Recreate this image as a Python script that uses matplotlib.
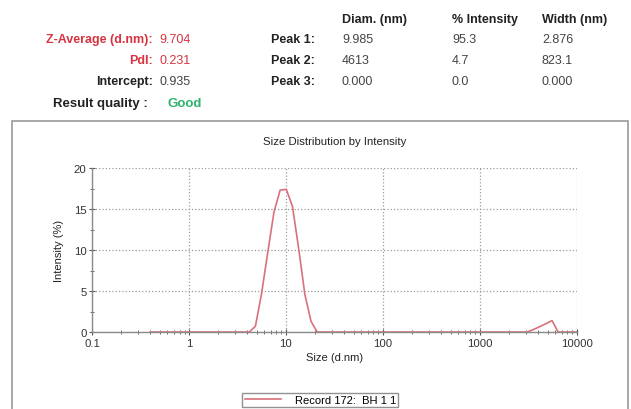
import numpy as np
from matplotlib import pyplot as plt
from matplotlib.patches import Rectangle

plt.rcParams['font.family'] = ['Liberation Sans', 'DejaVu Sans']

# size bins (d.nm) and intensity (%)
sizes = [0.4, 0.4632, 0.5365, 0.6213, 0.7195, 0.8332, 0.9649, 1.117, 1.294, 1.499,
         1.736, 2.010, 2.328, 2.696, 3.122, 3.615, 4.187, 4.849, 5.615, 6.503,
         7.531, 8.721, 10.10, 11.70, 13.54, 15.69, 18.17, 21.04, 24.36, 28.21,
         32.67, 37.84, 43.82, 50.75, 58.77, 68.06, 78.82, 91.28, 105.7, 122.4,
         141.8, 164.2, 190.1, 220.2, 255.0, 295.3, 342.0, 396.1, 458.7, 531.2,
         615.1, 712.4, 825.0, 955.4, 1106, 1281, 1484, 1718, 1990, 2305,
         2669, 3091, 3580, 4145, 4801, 5560, 6439, 7456, 8635, 10000]
intensity = [0, 0, 0, 0, 0, 0, 0, 0, 0, 0,
             0, 0, 0, 0, 0, 0, 0, 0.7, 4.7, 9.7,
             14.6, 17.3, 17.4, 15.3, 10.2, 4.6, 1.3, 0, 0, 0,
             0, 0, 0, 0, 0, 0, 0, 0, 0, 0,
             0, 0, 0, 0, 0, 0, 0, 0, 0, 0,
             0, 0, 0, 0, 0, 0, 0, 0, 0, 0,
             0, 0, 0.3, 0.65, 1.0, 1.4, 0, 0, 0, 0]

header = ['Diam. (nm)', '% Intensity', 'Width (nm)']
peak_rows = [['Peak 1:', '9.985', '95.3', '2.876'],
             ['Peak 2:', '4613', '4.7', '823.1'],
             ['Peak 3:', '0.000', '0.0', '0.000']]
left_rows = [['Z-Average (d.nm):', '9.704'],
             ['PdI:', '0.231'],
             ['Intercept:', '0.935']]

W, H = 631, 410
fig = plt.figure(figsize=(W / 100, H / 100), dpi=100)

def px(x, y):
    return x / W, 1 - y / H

red = '#d63440'
dark = '#222222'
fs = 9

# summary text block
col_x = [342, 452, 542]
for i, h in enumerate(header):
    fig.text(*px(col_x[i], 20), h, fontsize=fs, fontweight='bold', color=dark, va='center')
row_y = [40, 61, 82]
for r, row in enumerate(peak_rows):
    fig.text(*px(315, row_y[r]), row[0], fontsize=fs, fontweight='bold', color=dark,
             va='center', ha='right')
    for i in range(3):
        fig.text(*px(col_x[i], row_y[r]), row[i + 1], fontsize=fs, color='#444444', va='center')
for r, row in enumerate(left_rows):
    c = red if r < 2 else dark
    fig.text(*px(153, row_y[r]), row[0], fontsize=fs, fontweight='bold', color=c,
             va='center', ha='right')
    fig.text(*px(159, row_y[r]), row[1], fontsize=fs, color=c if r < 2 else '#444444', va='center')
fig.text(*px(53, 104), 'Result quality :', fontsize=9.5, fontweight='bold', color=dark, va='center')
fig.text(*px(167, 104), 'Good', fontsize=9.5, fontweight='bold', color='#2fb36e', va='center')

# panel border
fig.add_artist(Rectangle(px(12, 440), (628 - 12) / W, (440 - 122) / H, fill=False,
                         edgecolor='#9a9a9a', lw=1.2, transform=fig.transFigure))

ax = fig.add_axes([92 / W, 1 - 333 / H, (576.7 - 92) / W, (333 - 169) / H])
ax.plot(sizes, intensity, color='#d9717b', lw=1.2, label='Record 172:  BH 1 1')
ax.set_xscale('log')
ax.set_xlim(0.1, 10000)
ax.set_ylim(0, 20)
ax.set_xticks([0.1, 1, 10, 100, 1000, 10000])
ax.set_xticklabels(['0.1', '1', '10', '100', '1000', '10000'])
ax.set_yticks([0, 5, 10, 15, 20])
ax.set_yticks([2.5, 7.5, 12.5, 17.5], minor=True)
ax.grid(True, which='major', linestyle=':', color='#9c9c9c', lw=0.9)
for s in ['top', 'right']:
    ax.spines[s].set_visible(False)
for s in ['left', 'bottom']:
    ax.spines[s].set_color('#8a8a8a')
    ax.spines[s].set_linewidth(1.0)
ax.tick_params(which='both', direction='inout', colors='#555555', labelsize=8.2,
               labelcolor='#333333', pad=2)
ax.tick_params(which='major', length=4)
ax.tick_params(which='minor', length=2.5)
ax.set_title('Size Distribution by Intensity', fontsize=8.2, color=dark, pad=17)
ax.set_xlabel('Size (d.nm)', fontsize=8, color=dark, labelpad=3)
ax.set_ylabel('Intensity (%)', fontsize=8, color=dark, labelpad=7)

leg = ax.legend(loc='center', bbox_to_anchor=(0.471, -0.415), fontsize=8, frameon=True,
                fancybox=False, edgecolor='#777777', handlelength=3.3, borderpad=0.2,
                handletextpad=1.2)
leg.get_frame().set_linewidth(1.0)

fig.savefig('out.png', dpi=100)
